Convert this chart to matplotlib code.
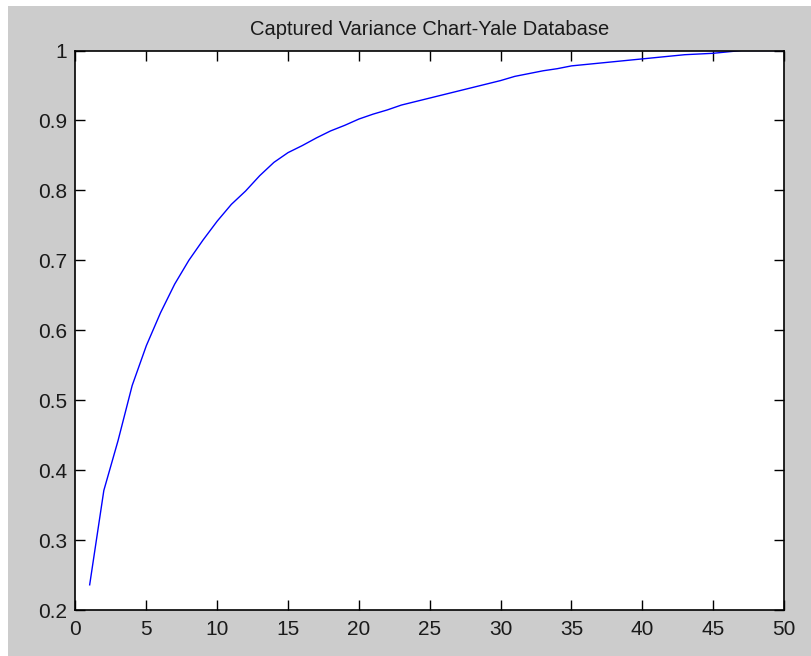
import numpy as np
import matplotlib
matplotlib.use("Agg")
import matplotlib.pyplot as plt
from matplotlib.patches import Rectangle
from matplotlib.ticker import FormatStrFormatter

# cumulative captured variance per number of eigenfaces
n_components = list(range(1, 51))
captured = [0.236, 0.371, 0.442, 0.521, 0.578, 0.625, 0.666, 0.700, 0.729, 0.756,
            0.780, 0.799, 0.821, 0.840, 0.854, 0.864, 0.875, 0.885, 0.893, 0.902,
            0.909, 0.915, 0.922, 0.927, 0.932, 0.937, 0.942, 0.947, 0.952, 0.957,
            0.963, 0.967, 0.971, 0.974, 0.978, 0.980, 0.982, 0.984, 0.986, 0.988,
            0.990, 0.992, 0.994, 0.995, 0.996, 0.998, 1.000, 1.000, 1.000, 1.000]
x_ticks = np.arange(0, 51, 5)
y_ticks = np.round(np.arange(0.2, 1.01, 0.1), 1)

plt.rcParams['font.family'] = ['Liberation Sans', 'DejaVu Sans']

W, H = 812, 656
fig = plt.figure(figsize=(W / 100, H / 100), dpi=100, facecolor="white")
# grey window area
fig.patches.append(Rectangle((8 / W, 0), 1, 1 - 6 / H, transform=fig.transFigure,
                             facecolor="#cccccc", edgecolor="none", zorder=-10))

ax = fig.add_axes([75.5 / W, 1 - 610 / H, (784 - 75.5) / W, (610 - 50.5) / H])
ax.plot(n_components, captured, color="#0000ff", lw=1.0)

ax.set_xlim(0, 50)
ax.set_ylim(0.2, 1.0)
ax.set_xticks(x_ticks)
ax.set_yticks(y_ticks)
ax.yaxis.set_major_formatter(FormatStrFormatter('%g'))
ax.tick_params(direction="in", length=7, width=1, top=True, right=True,
               labelsize=15, color="black", labelcolor="#1a1a1a")
ax.tick_params(axis="x", pad=7)
ax.tick_params(axis="y", pad=6)
for s in ax.spines.values():
    s.set_linewidth(1.2)
ax.set_title("Captured Variance Chart-Yale Database", fontsize=14.5, pad=11,
             color="#1a1a1a")

fig.savefig("out.png", dpi=100, facecolor=fig.get_facecolor())
